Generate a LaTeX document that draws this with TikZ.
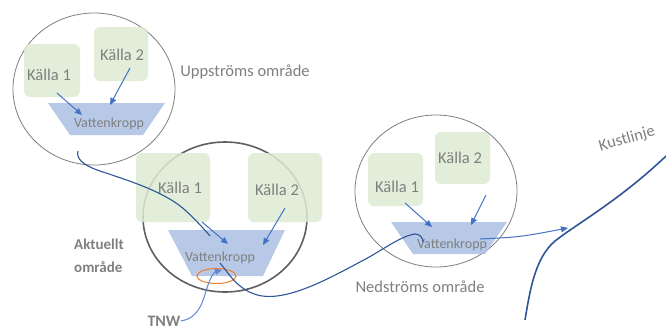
\documentclass[tikz,border=0pt]{standalone}
\usepackage{fontspec}
\setmainfont{Carlito}
\usetikzlibrary{arrows.meta}
\definecolor{boxgreen}{HTML}{DDEBD3}
\definecolor{trapblue}{HTML}{ABC0E4}
\definecolor{arrowblue}{HTML}{4472C4}
\definecolor{darkblue}{HTML}{2F5597}
\definecolor{circgray}{HTML}{7F7F7F}
\definecolor{curgray}{HTML}{5F5F5F}
\definecolor{txtgray}{HTML}{7F7F7F}
\definecolor{tnworange}{HTML}{ED7D31}
\tikzset{
  srcbox/.style={fill=boxgreen, fill opacity=0.85, draw=none, rounded corners=6pt, inner sep=0pt},
  lbl/.style={text=txtgray, inner sep=0pt, font=\fontsize{16.5}{18}\selectfont},
  vklbl/.style={text=txtgray, inner sep=0pt, font=\fontsize{14}{16}\selectfont},
  boldlbl/.style={text=txtgray, inner sep=0pt, font=\bfseries\fontsize{15}{23}\selectfont, align=left},
  trap/.style={fill=trapblue, fill opacity=0.85, draw=none},
  area/.style={draw=circgray, line width=0.8pt},
  curarea/.style={draw=curgray, line width=1.6pt},
  flow/.style={draw=arrowblue, line width=1pt, -{Triangle[length=7pt,width=6pt]}},
  river/.style={draw=darkblue, line width=1.1pt},
}
\begin{document}
\begin{tikzpicture}[x=1pt,y=-1pt]
\useasboundingbox (0,0) rectangle (666,325);

% ---------- area circles (under the fills) ----------
\draw[area] (94,89) ellipse [x radius=81, y radius=76];
\draw[curarea] (225,217) ellipse [x radius=82, y radius=75];
\draw[area] (436,191) ellipse [x radius=81, y radius=76];

% ---------- Upstream area ----------
\node[srcbox, minimum width=56pt, minimum height=53pt] (uk1) at (52,70.5) {};
\node[srcbox, minimum width=54pt, minimum height=54pt] (uk2) at (121,54) {};
\fill[trap] (48,103) -- (165,103) -- (143,135) -- (70,135) -- cycle;
\node[lbl] (uk1t) at (49,75) {Källa 1};
\node[lbl] (uk2t) at (122,55) {Källa 2};
\node[vklbl] (uvk) at (109,124) {Vattenkropp};
\coordinate (uk1s) at (57,93);
\coordinate (uk1e) at (82,115);
\coordinate (uk2s) at (130,68);
\coordinate (uk2e) at (110,105);
\draw[flow] (uk1s) -- (uk1e);
\draw[flow] (uk2s) -- (uk2e);
\node[lbl] (ulbl) at (245,72) {Uppströms område};

% ---------- Current area ----------
\node[srcbox, minimum width=74pt, minimum height=69pt] (ck1) at (173,187.5) {};
\node[srcbox, minimum width=74pt, minimum height=69pt] (ck2) at (285,187.5) {};
\fill[trap] (168,230) -- (285,230) -- (263,276) -- (192,276) -- cycle;
\node[lbl] (ck1t) at (180,188) {Källa 1};
\node[lbl] (ck2t) at (277,190) {Källa 2};
\node[vklbl] (cvk) at (220,258) {Vattenkropp};
\coordinate (ck1s) at (202,222);
\coordinate (ck1e) at (228,244);
\coordinate (ck2s) at (285,208);
\coordinate (ck2e) at (263,245);
\draw[flow] (ck1s) -- (ck1e);
\draw[flow] (ck2s) -- (ck2e);
\draw[tnworange, line width=1pt] (216.5,276) ellipse [x radius=19.5, y radius=7.5];
\node[boldlbl] (clbl) at (99,256) {Aktuellt\\område};
\node[text=txtgray, inner sep=0pt, font=\bfseries\fontsize{16}{18}\selectfont] (tnw) at (164,321) {TNW};
\coordinate (tnwe) at (222,270);
\draw[flow, draw=arrowblue!85] (tnw.east) .. controls (200,318) and (203,300) .. (207,288) .. controls (210,278) and (214,272) .. (tnwe);

% ---------- Downstream area ----------
\node[srcbox, minimum width=55pt, minimum height=53pt] (dk1) at (395.5,179.5) {};
\node[srcbox, minimum width=55pt, minimum height=52pt] (dk2) at (462.5,158) {};
\fill[trap] (391,222) -- (507,222) -- (485,254) -- (413,254) -- cycle;
\node[lbl] (dk1t) at (397,187) {Källa 1};
\node[lbl] (dk2t) at (460,158) {Källa 2};
\node[vklbl] (dvk) at (452,245) {Vattenkropp};
\coordinate (dk1s) at (405,203);
\coordinate (dk1e) at (432,227);
\coordinate (dk2s) at (486,195);
\coordinate (dk2e) at (471,225);
\draw[flow] (dk1s) -- (dk1e);
\draw[flow] (dk2s) -- (dk2e);
\node[lbl] (dlbl) at (420,287) {Nedströms område};

% ---------- Rivers ----------
\coordinate (r1s) at (78,151);
\coordinate (r1e) at (210,236);
\draw[river] (r1s) .. controls (76,158) and (82,165) .. (100,171) .. controls (130,181) and (165,192) .. (185,210) .. controls (195,219) and (203,228) .. (r1e);
\coordinate (r2s) at (220,263);
\coordinate (r2e) at (423,242);
\draw[river] (r2s) .. controls (228,272) and (238,292) .. (262,296) .. controls (290,300) and (330,278) .. (360,262) .. controls (380,252) and (400,236) .. (415,234) .. controls (420,234) and (423,238) .. (r2e);

% ---------- Coast ----------
\coordinate (outs) at (480,239);
\coordinate (oute) at (568,228);
\draw[flow] (outs) .. controls (520,237) .. (oute);
\coordinate (cs) at (525,320);
\coordinate (ce) at (666,156);
\draw[draw=darkblue, line width=1.6pt] (cs) .. controls (530,290) and (535,258) .. (555,241) .. controls (575,225) and (620,200) .. (ce);
\node[lbl, rotate=16] (kust) at (627,139) {Kustlinje};
\end{tikzpicture}
\end{document}
